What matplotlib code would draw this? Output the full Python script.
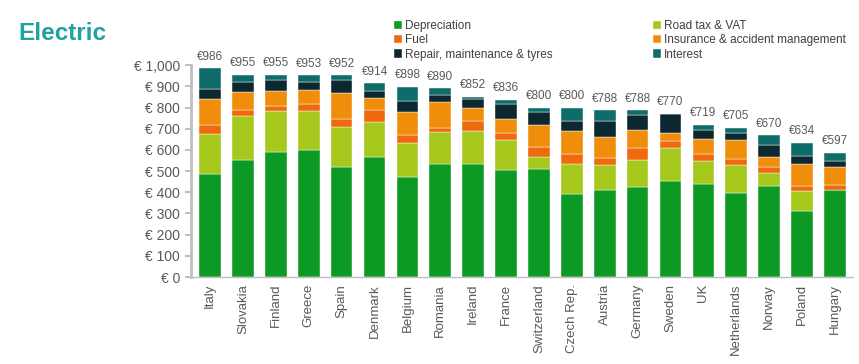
import matplotlib
matplotlib.use("Agg")
import matplotlib.pyplot as plt
import numpy as np

plt.rcParams['font.family'] = ['Liberation Sans', 'DejaVu Sans']

# data (EUR per month)
countries = ['Italy', 'Slovakia', 'Finland', 'Greece', 'Spain', 'Denmark', 'Belgium',
             'Romania', 'Ireland', 'France', 'Switzerland', 'Czech Rep.', 'Austria',
             'Germany', 'Sweden', 'UK', 'Netherlands', 'Norway', 'Poland', 'Hungary']
depreciation = [488, 553, 591, 600, 520, 565, 472, 534, 534, 507, 510, 394, 413, 425, 452, 439, 397, 430, 310, 409]
road_tax = [186, 206, 192, 183, 186, 166, 161, 149, 156, 142, 57, 138, 115, 126, 157, 107, 131, 61, 96, 0]
fuel = [43, 28, 23, 34, 39, 55, 36, 21, 45, 33, 47, 49, 34, 58, 34, 34, 28, 29, 22, 27]
insurance = [121, 84, 71, 68, 124, 61, 109, 121, 65, 63, 104, 107, 101, 84, 37, 72, 90, 47, 104, 81]
repair = [50, 49, 54, 35, 62, 33, 55, 36, 38, 71, 62, 49, 74, 74, 90, 44, 34, 55, 40, 31]
interest = [98, 35, 24, 33, 21, 34, 65, 29, 14, 20, 20, 63, 51, 21, 0, 23, 25, 48, 62, 38]
totals = [986, 955, 955, 953, 952, 914, 898, 890, 852, 836, 800, 800, 788, 788, 770, 719, 705, 670, 634, 597]

series = [
    ('Depreciation', depreciation, '#0c9a24'),
    ('Road tax & VAT', road_tax, '#a6c81c'),
    ('Fuel', fuel, '#ee6a0c'),
    ('Insurance & accident management', insurance, '#f08e0c'),
    ('Repair, maintenance & tyres', repair, '#0b2831'),
    ('Interest', interest, '#0e6c6a'),
]

fig = plt.figure(figsize=(8.59, 3.64), dpi=100)
ax = fig.add_axes([0.2224, 0.239, 0.7706, 0.582])

x = np.arange(len(countries))
bottom = np.zeros(len(countries))
handles = {}
for name, vals, col in series:
    b = ax.bar(x, vals, 0.66, bottom=bottom, color=col, edgecolor='white', linewidth=0.3, label=name)
    handles[name] = b
    bottom += np.array(vals)

# total labels above bars
for xi, top, tot in zip(x, bottom, totals):
    ax.annotate(f'€{tot}', (xi, top), xytext=(0, 4), textcoords='offset points',
                ha='center', va='bottom', fontsize=8.5, color='#595959')

ax.set_xlim(-0.58, 19.55)
ax.set_ylim(0, 1000)
ax.set_yticks(np.arange(0, 1001, 100))
ax.set_yticklabels([f'€ {v:,}' for v in range(0, 1001, 100)], fontsize=10, color='#595959')
ax.set_xticks(x)
ax.set_xticklabels(countries, rotation=90, fontsize=9.5, color='#595959')
ax.tick_params(axis='x', length=0, pad=5)
ax.tick_params(axis='y', length=4, width=1.5, color='#bfbfbf', pad=4)
for s in ['top', 'right']:
    ax.spines[s].set_visible(False)
ax.spines['left'].set_color('#bfbfbf')
ax.spines['left'].set_linewidth(2)
ax.spines['bottom'].set_color('#bfbfbf')
ax.spines['bottom'].set_linewidth(1)

fig.text(18 / 859, 1 - 40 / 364, 'Electric', fontsize=17.5, fontweight='bold', color='#1fa2a0',
         ha='left', va='baseline')

leg_kw = dict(frameon=False, fontsize=8.5, handlelength=0.7, handleheight=0.7,
              handletextpad=0.25, labelspacing=0.2, borderpad=0, labelcolor='#404040')
col1 = ['Depreciation', 'Fuel', 'Repair, maintenance & tyres']
col2 = ['Road tax & VAT', 'Insurance & accident management', 'Interest']
fig.legend([handles[n] for n in col1], col1, loc='upper left',
           bbox_to_anchor=(388 / 859, 1 - 14 / 364), **leg_kw)
fig.legend([handles[n] for n in col2], col2, loc='upper left',
           bbox_to_anchor=(647 / 859, 1 - 14 / 364), **leg_kw)

fig.savefig('out.png', dpi=100)
